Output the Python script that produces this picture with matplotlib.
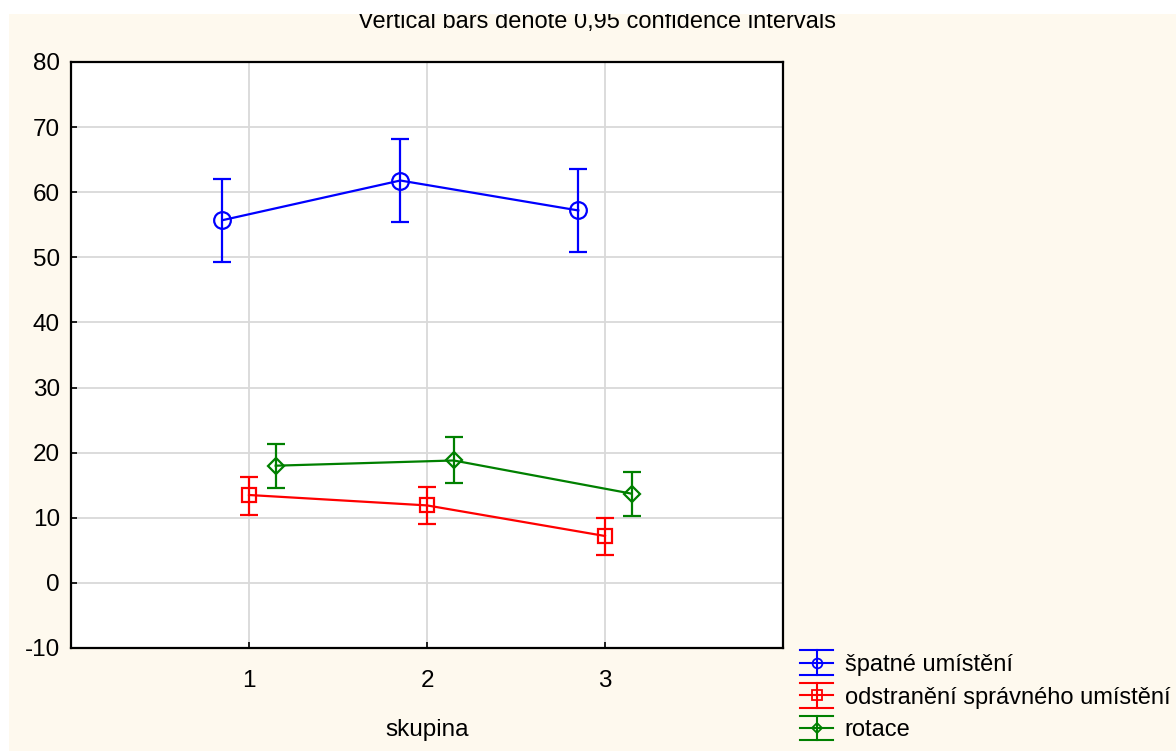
import numpy as np
import matplotlib
matplotlib.use("Agg")
from matplotlib import pyplot as plt
from matplotlib.lines import Line2D
from matplotlib.patches import Rectangle
from matplotlib.legend_handler import HandlerBase

# === data: means and 0.95 confidence limits per group ===
groups = np.array([1, 2, 3])
labels = ["špatné umístění", "odstranění správného umístění", "rotace"]

spatne_mean = np.array([55.7, 61.8, 57.2])
spatne_lo = np.array([49.3, 55.5, 50.8])
spatne_hi = np.array([62.0, 68.2, 63.5])

odstr_mean = np.array([13.5, 11.9, 7.2])
odstr_lo = np.array([10.4, 9.0, 4.3])
odstr_hi = np.array([16.3, 14.7, 10.0])

rotace_mean = np.array([18.0, 18.8, 13.7])
rotace_lo = np.array([14.5, 15.4, 10.2])
rotace_hi = np.array([21.4, 22.4, 17.1])

yticks = [-10, 0, 10, 20, 30, 40, 50, 60, 70, 80]

plt.rcParams["font.family"] = ["Liberation Sans", "DejaVu Sans"]
plt.rcParams["font.size"] = 17.5
plt.rcParams["axes.unicode_minus"] = False

BG = "#fef9ee"
W, H = 1176, 751

fig = plt.figure(figsize=(W / 100, H / 100), dpi=100)
fig.patch.set_facecolor("white")
# cream panel behind everything
fig.patches.append(Rectangle((9 / W, 0), 1 - 9 / W, 1 - 14 / H, transform=fig.transFigure,
                             facecolor=BG, edgecolor="none", zorder=-10))

ax = fig.add_axes([71 / W, (H - 648) / H, 712 / W, 586 / H])
ax.set_facecolor("white")

series = [
    (spatne_mean, spatne_lo, spatne_hi, -0.15, "#0000ff", "o", 12),
    (odstr_mean, odstr_lo, odstr_hi, 0.0, "#ff0000", "s", 10.5),
    (rotace_mean, rotace_lo, rotace_hi, 0.15, "#008000", "D", 8.5),
]
handles = []
for (mean, lo, hi, off, col, mk, ms), lab in zip(series, labels):
    ax.errorbar(groups + off, mean, yerr=[mean - lo, hi - mean], color=col,
                lw=1.6, elinewidth=1.6, capsize=6.5, capthick=1.6,
                marker=mk, ms=ms, mfc="none", mec=col, mew=1.6, zorder=3)
    handles.append(Line2D([], [], color=col, marker=mk, label=lab))

ax.set_xlim(0, 4)
ax.set_ylim(-10, 80)
ax.set_xticks(groups)
ax.set_yticks(yticks)
ax.grid(True, color="#d9d9d9", lw=1.3)
ax.set_axisbelow(True)
ax.tick_params(direction="in", length=4, width=1.2, color="black")
ax.tick_params(axis="y", pad=8)
ax.tick_params(axis="x", pad=16)
for s in ax.spines.values():
    s.set_linewidth(1.6)
    s.set_color("black")
ax.set_xlabel("skupina", labelpad=19)


class CIHandler(HandlerBase):
    """legend glyph: whisker with wide caps and the marker in the middle"""

    def create_artists(self, legend, orig_handle, xdescent, ydescent,
                       width, height, fontsize, trans):
        c = orig_handle.get_color()
        m = orig_handle.get_marker()
        x0, x1 = -xdescent, -xdescent + width
        xm = (x0 + x1) / 2
        ym = -ydescent + height / 2
        h = 0.52 * fontsize
        arts = [Line2D([x0, x1], [y, y], color=c, lw=1.5) for y in (ym - h, ym, ym + h)]
        arts.append(Line2D([xm, xm], [ym - h, ym + h], color=c, lw=1.5))
        arts.append(Line2D([xm], [ym], marker=m, ms=7 if m != "D" else 5.5,
                           mfc="none", mec=c, mew=1.3, ls="none"))
        for a in arts:
            a.set_transform(trans)
        return arts


fig.legend(handles=handles, handler_map={Line2D: CIHandler()},
           loc="upper left", bbox_to_anchor=(800 / W, 1 - 654 / H),
           frameon=False, borderpad=0, borderaxespad=0, fontsize=17,
           handlelength=1.4, handletextpad=0.5, labelspacing=0.45)

fig.text(597 / W, 1 - 28 / H, "Vertical bars denote 0,95 confidence intervals",
         ha="center", va="baseline", fontsize=17)
# white strip along the top edge
fig.patches.append(Rectangle((0, 1 - 14 / H), 1, 14 / H, transform=fig.transFigure,
                             facecolor="white", edgecolor="none", zorder=10))

fig.savefig("out.png", dpi=100, facecolor="white")
